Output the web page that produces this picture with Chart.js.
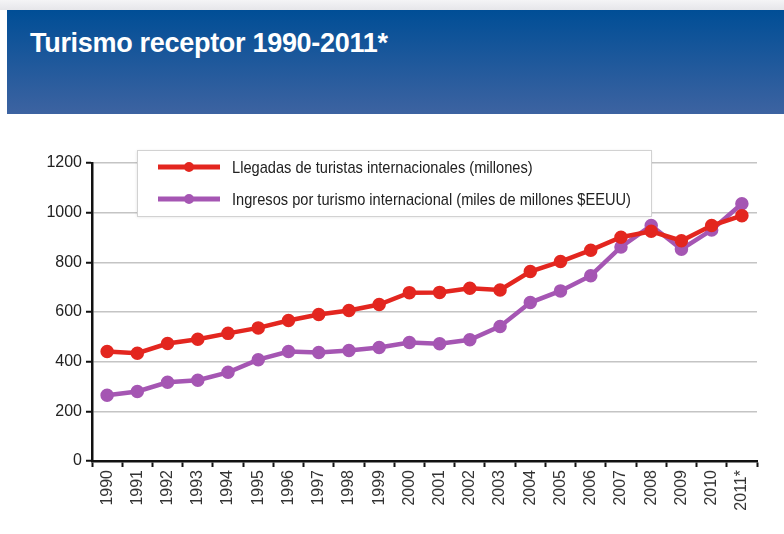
<!DOCTYPE html>
<html>
<head>
<meta charset="utf-8">
<script src="https://cdn.jsdelivr.net/npm/chart.js@4"></script>
<style>
    body { margin: 0; width: 784px; height: 534px; background: #fff; overflow: hidden; position: relative; font-family: 'Liberation Sans', Arial, sans-serif; }
    .top-strip { position: absolute; left: 0; top: 0; width: 784px; height: 10px; background: linear-gradient(#f4f4f6, #e6e6ea); }
    .header { position: absolute; left: 7px; top: 10px; width: 777px; height: 104px; background: linear-gradient(#004e96, #3d63a1); }
    .header h1 { margin: 0; position: absolute; left: 23px; top: 18px; color: #fff; font-size: 27px; font-weight: bold; letter-spacing: -0.3px; }
    .chart-wrap { position: absolute; left: 0; top: 114px; width: 784px; height: 420px; }
</style>
</head>
<body>
<div class="top-strip"></div>
<div class="header"><h1>Turismo receptor 1990-2011*</h1></div>
<div class="chart-wrap"><canvas id="turismoChart"></canvas></div>

<script>
const years = ['1990', '1991', '1992', '1993', '1994', '1995', '1996', '1997', '1998', '1999', '2000',
    '2001', '2002', '2003', '2004', '2005', '2006', '2007', '2008', '2009', '2010', '2011*'];
const llegadas = [441, 434, 473, 490, 514, 536, 566, 590, 606, 630, 678,
    679, 696, 689, 763, 803, 849, 901, 925, 887, 948, 988];
const ingresos = [265, 280, 317, 325, 357, 408, 441, 437, 445, 457, 477,
    472, 488, 542, 638, 685, 746, 862, 948, 853, 930, 1036];
const yTicks = [0, 200, 400, 600, 800, 1000, 1200];

// legend drawn as a framed box inside the plot, like the original
const legendBox = {
    id: 'legendBox',
    afterDatasetsDraw(chart) {
        const ctx = chart.ctx;
        const x = 137, y = 36, w = 514, h = 66;
        ctx.save();
        ctx.shadowColor = 'rgba(0,0,0,0.12)';
        ctx.shadowBlur = 3;
        ctx.shadowOffsetY = 1;
        ctx.fillStyle = '#fff';
        ctx.fillRect(x, y, w, h);
        ctx.shadowColor = 'transparent';
        ctx.strokeStyle = '#d2d2d2';
        ctx.lineWidth = 1;
        ctx.strokeRect(x + 0.5, y + 0.5, w, h);

        chart.data.datasets.forEach(function (ds, i) {
            const rowY = y + 17 + i * 32;
            ctx.strokeStyle = ds.borderColor;
            ctx.lineWidth = 5;
            ctx.beginPath();
            ctx.moveTo(158, rowY);
            ctx.lineTo(220, rowY);
            ctx.stroke();
            ctx.fillStyle = ds.borderColor;
            ctx.beginPath();
            ctx.arc(189, rowY, 5, 0, Math.PI * 2);
            ctx.fill();

            // condensed look: squeeze the text a little
            ctx.save();
            ctx.translate(232, rowY + 1);
            ctx.scale(0.86, 1);
            ctx.fillStyle = '#222';
            ctx.font = '17px "Liberation Sans", Arial, sans-serif';
            ctx.textBaseline = 'middle';
            ctx.fillText(ds.label, 0, 0);
            ctx.restore();
        });
        ctx.restore();
    }
};

const ctx = document.getElementById('turismoChart');
new Chart(ctx, {
    type: 'line',
    data: {
        labels: years,
        datasets: [
            {
                label: 'Llegadas de turistas internacionales (millones)',
                data: llegadas,
                borderColor: '#e3261f',
                backgroundColor: '#e3261f',
                borderWidth: 4.5,
                pointRadius: 4.5,
                tension: 0
            },
            {
                label: 'Ingresos por turismo internacional (miles de millones $EEUU)',
                data: ingresos,
                borderColor: '#a556b3',
                backgroundColor: '#a556b3',
                borderWidth: 4.5,
                pointRadius: 4.5,
                tension: 0
            }
        ]
    },
    plugins: [legendBox],
    options: {
        responsive: true,
        maintainAspectRatio: false,
        animation: false,
        layout: { padding: { top: 49, right: 27, left: 0, bottom: 0 } },
        plugins: {
            legend: { display: false },
            tooltip: { enabled: false }
        },
        scales: {
            x: {
                offset: true,
                afterFit: function (scale) { scale.height = 73; },
                grid: { offset: true, drawOnChartArea: false, tickLength: 6, tickColor: '#111', tickWidth: 2 },
                border: { color: '#111', width: 2.5 },
                ticks: {
                    minRotation: 90, maxRotation: 90, padding: 3, color: '#333',
                    font: { family: '"Liberation Sans", Arial, sans-serif', size: 16 }
                }
            },
            y: {
                min: 0,
                max: 1200,
                afterFit: function (scale) { scale.width = 92; },
                afterBuildTicks: function (scale) {
                    scale.ticks = yTicks.map(function (v) { return { value: v }; });
                },
                grid: { color: '#c4c4c4', lineWidth: 1.5, tickLength: 6, tickColor: '#111', tickWidth: 2 },
                border: { color: '#111', width: 2.5 },
                ticks: {
                    padding: 4, color: '#222',
                    font: { family: '"Liberation Sans", Arial, sans-serif', size: 16 },
                    callback: function (value) { return String(value); }
                }
            }
        }
    }
});
</script>
</body>
</html>
